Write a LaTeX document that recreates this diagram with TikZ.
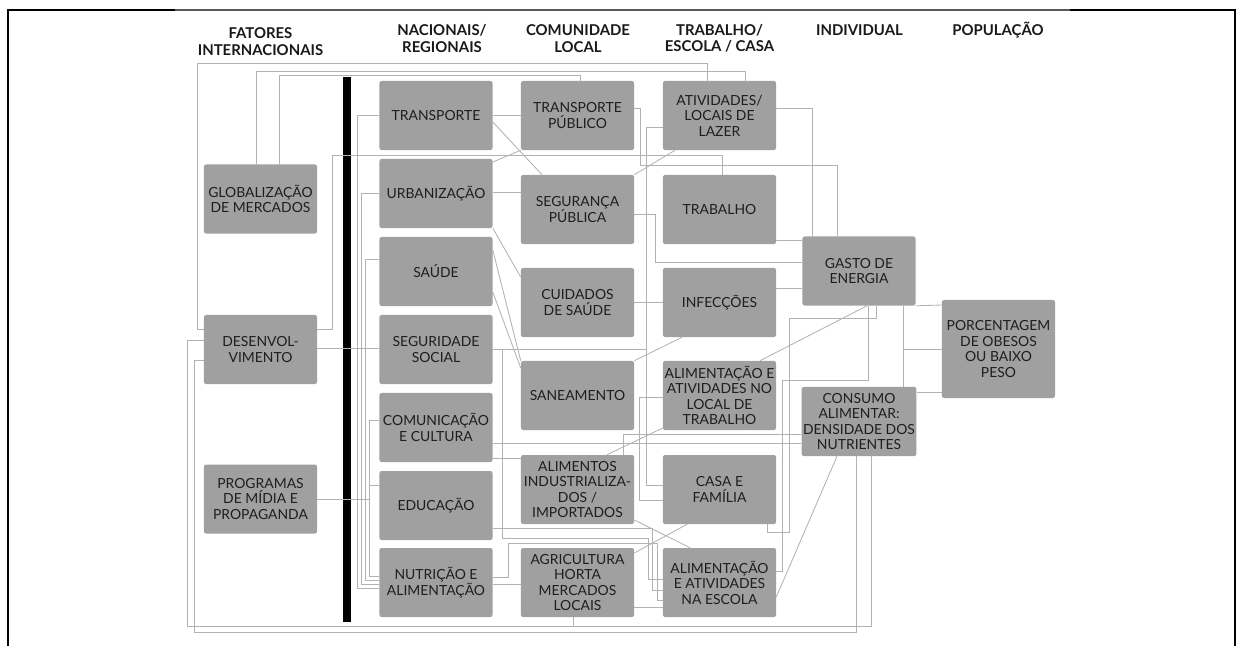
\documentclass[tikz,border=0pt]{standalone}
\usepackage{fontspec}
\setmainfont{Lato}
\definecolor{boxgray}{RGB}{160,160,160}
\definecolor{wiregray}{RGB}{178,178,178}
\definecolor{inkgray}{RGB}{30,30,30}

\begin{document}
\begin{tikzpicture}[x=0.025cm, y=-0.025cm,
        box/.style={fill=boxgray, rounded corners=1.5pt, minimum width=2.825cm, minimum height=1.725cm, inner sep=1pt, align=center, text=inkgray, font=\fontsize{9.9}{11}\selectfont},
        head/.style={align=center, text=black!90, font=\bfseries\fontsize{10.6}{11.6}\selectfont},
        wire/.style={draw=wiregray, line width=0.6pt}]
        \useasboundingbox (0,0) rectangle (1237,646);
        % page frame and the black bar
            \draw[black, line width=1.4pt] (8,646) -- (8,10) -- (175,10);
            \draw[black!65, line width=0.8pt] (175,10) -- (1070,10);
            \draw[black, line width=1.4pt] (1070,10) -- (1235,10) -- (1235,646);
            \fill[black] (343,77) rectangle (351,622);
        % Column titles.
            \node[head] (hfat) at (260.5,41.5) {FATORES\\INTERNACIONAIS};
            \node[head] (hnac) at (442,38.5) {NACIONAIS/\\REGIONAIS};
            \node[head] (hcom) at (578,38.5) {COMUNIDADE\\LOCAL};
            \node[head] (htra) at (719.5,38.5) {TRABALHO/\\ESCOLA / CASA};
            \node[head] (hind) at (859.5,30) {INDIVIDUAL};
            \node[head] (hpop) at (998,30) {POPULAÇÃO};
        % Boxes, column by column.
            \node[box] (glob) at (260.5,199) {GLOBALIZAÇÃO\\DE MERCADOS};
            \node[box] (desenv) at (260.5,349.5) {DESENVOL-\\VIMENTO};
            \node[box] (prog) at (260.5,499) {PROGRAMAS\\DE MÍDIA E\\PROPAGANDA};

            \node[box] (transporte) at (436,115.5) {TRANSPORTE};
            \node[box] (urban) at (436,193.5) {URBANIZAÇÃO};
            \node[box] (saude) at (436,271.5) {SAÚDE};
            \node[box] (segur) at (436,349.5) {SEGURIDADE\\SOCIAL};
            \node[box] (comun) at (436,427.5) {COMUNICAÇÃO\\E CULTURA};
            \node[box] (educ) at (436,505.5) {EDUCAÇÃO};
            \node[box] (nutri) at (436,582.5) {NUTRIÇÃO E\\ALIMENTAÇÃO};

            \node[box] (transpub) at (577.5,115.5) {TRANSPORTE\\PÚBLICO};
            \node[box] (segpub) at (577.5,209.5) {SEGURANÇA\\PÚBLICA};
            \node[box] (cuidados) at (577.5,302.5) {CUIDADOS\\DE SAÚDE};
            \node[box] (saneam) at (577.5,395.5) {SANEAMENTO};
            \node[box] (alimind) at (577.5,489.5) {ALIMENTOS\\INDUSTRIALIZA-\\DOS /\\IMPORTADOS};
            \node[box] (agri) at (577.5,582.5) {AGRICULTURA\\HORTA\\MERCADOS\\LOCAIS};

            \node[box] (lazer) at (719.5,115.5) {ATIVIDADES/\\LOCAIS DE\\LAZER};
            \node[box] (trabalho) at (719.5,209.5) {TRABALHO};
            \node[box] (infec) at (719.5,302.5) {INFECÇÕES};
            \node[box] (alimtrab) at (719.5,395.5) {ALIMENTAÇÃO E\\ATIVIDADES NO\\LOCAL DE\\TRABALHO};
            \node[box] (casa) at (719.5,489.5) {CASA E\\FAMÍLIA};
            \node[box] (escola) at (719.5,582.5) {ALIMENTAÇÃO\\E ATIVIDADES\\NA ESCOLA};

            \node[box] (gasto) at (859,271) {GASTO DE\\ENERGIA};
            \node[box] (consumo) at (859,421.5) {CONSUMO\\ALIMENTAR:\\DENSIDADE DOS\\NUTRIENTES};

            \node[box, minimum height=2.45cm] (porc) at (998.5,349) {PORCENTAGEM\\DE OBESOS\\OU BAIXO\\PESO};
        % Links from the international factors.
            \draw[wire] (desenv.west |- 0,329) -| (197,63) -| (707,0 |- lazer.north);
            \draw[wire] (256,0 |- glob.north) |- (745,71) -- (745,0 |- lazer.north);
            \draw[wire] (279,0 |- glob.north) |- (580,75) -- (580,0 |- transpub.north);
            \draw[wire] (desenv.east |- 0,329) -| (332,155) -| (722,0 |- trabalho.north);
            \draw[wire] (desenv.east |- 0,348) -- (segur.west |- 0,348);
            \draw[wire] (prog.east) -- (369,0 |- prog.east);
            \draw[wire] (desenv.west |- 0,340) -| (187,626) -| (871,0 |- consumo.south);
            \draw[wire] (desenv.west |- 0,360) -| (194,632) -| (856,0 |- consumo.south);
        % The bus behind the bar.
            \draw[wire] (transporte.west) -| (357,588) -- (nutri.west |- 0,588);
            \draw[wire] (urban.west) -| (361,584) -- (nutri.west |- 0,584);
            \draw[wire] (saude.west |- 0,259) -| (365,580) -- (nutri.west |- 0,580);
            \draw[wire] (comun.west |- 0,420) -| (369,576) -- (nutri.west |- 0,576);
            \draw[wire] (educ.west |- 0,485) -- (369,485);
        % National to local community.
            \draw[wire] (transporte.east) -- (transpub.west);
            \draw[wire] (transporte.east |- 0,122) -- (542,0 |- segpub.north);
            \draw[wire] (urban.east |- 0,162) -- (transpub.south west);
            \draw[wire] (urban.east |- 0,192) -- (segpub.west |- 0,192);
            \draw[wire] (urban.south east) -- (cuidados.west |- 0,277);
            \draw[wire] (saude.east |- 0,250) -- (saneam.north west);
            \draw[wire] (saude.east |- 0,292) -- (saneam.west |- 0,368);
            \draw[wire] (segur.east) -- (646,0 |- segur.east);
            \draw[wire] (segur.east) -| (502,538) -| (648,579) -- (escola.west |- 0,579);
            \draw[wire] (comun.east |- 0,443) -- (consumo.west |- 0,443);
            \draw[wire] (comun.east |- 0,458) -- (alimind.west |- 0,458);
            \draw[wire] (educ.east |- 0,528) -| (652,590) -- (escola.west |- 0,590);
            \draw[wire] (nutri.east |- 0,577) -| (508,543) -| (657,600) -- (escola.west |- 0,600);
            \draw[wire] (nutri.east |- 0,584) -- (agri.west |- 0,584);
        % Local community to work / school / home.
            \draw[wire] (transpub.east |- 0,108) -| (640,165) -| (837,0 |- gasto.north);
            \draw[wire] (segpub.north east) -- (675,0 |- lazer.south);
            \draw[wire] (segpub.east |- 0,214) -| (655,262) -- (gasto.west |- 0,262);
            \draw[wire] (cuidados.east) -- (infec.west);
            \draw[wire] (saneam.north east) -- (682,0 |- infec.south);
            \draw[wire] (607,0 |- alimind.north) -- (alimtrab.west |- 0,428);
            \draw[wire] (623,0 |- alimind.north) |- (consumo.west |- 0,434);
            \draw[wire] (alimind.east |- 0,520) -- (690,0 |- escola.north);
            \draw[wire] (agri.east |- 0,553) -- (687,0 |- casa.south);
            \draw[wire] (agri.east |- 0,607) -- (escola.west |- 0,607);
            \draw[wire] (573,0 |- agri.south) -- (573,626);
        % Work / school / home to the individual.
            \draw[wire] (lazer.west |- 0,127) -| (646,485) -- (casa.west |- 0,485);
            \draw[wire] (alimtrab.west |- 0,397) -| (639,500) -- (casa.west |- 0,500);
            \draw[wire] (lazer.east |- 0,108) -| (812,0 |- gasto.north);
            \draw[wire] (trabalho.east |- 0,240) -- (gasto.west |- 0,240);
            \draw[wire] (infec.east |- 0,288) -- (gasto.west |- 0,288);
        % Individual and population.
            \draw[wire] (867,0 |- gasto.south) -- (760,0 |- alimtrab.north);
            \draw[wire] (876,0 |- gasto.south) |- (789,318) |- (767,532) -- (767,0 |- casa.south);
            \draw[wire] (868,0 |- gasto.south) |- (782,380) |- (escola.east |- 0,571);
            \draw[wire] (903,0 |- gasto.south) -- (903,0 |- consumo.north);
            \draw[wire] (903,349) -- (porc.west |- 0,349);
            \draw[wire] (gasto.south east) -- (porc.west |- 0,305);
            \draw[wire] (consumo.east |- 0,392) -- (porc.west |- 0,392);
            \draw[wire] (837,0 |- consumo.south) -- (escola.east |- 0,597);
    \end{tikzpicture}
\end{document}
